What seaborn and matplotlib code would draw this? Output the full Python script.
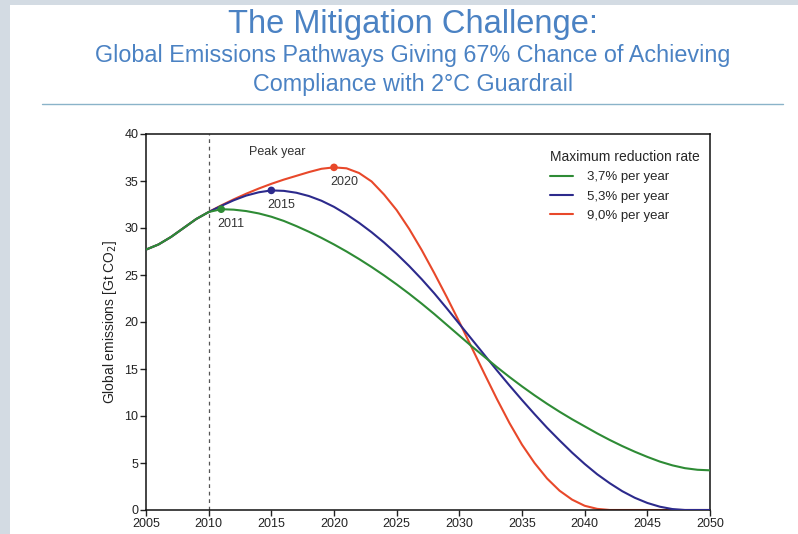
import numpy as np
import pandas as pd
import matplotlib
matplotlib.use("Agg")
import matplotlib.pyplot as plt
from matplotlib.patches import Rectangle
from matplotlib.lines import Line2D
import seaborn as sns

# Data (Gt CO2 per year)
years = list(range(2005, 2051))

green_37 = [27.7, 28.25, 29.05, 30.0, 30.95, 31.7, 32.0, 31.95, 31.8, 31.55,
            31.2, 30.75, 30.2, 29.6, 28.95, 28.25, 27.5, 26.7, 25.85, 24.95,
            24.0, 23.0, 21.95, 20.85, 19.7, 18.55, 17.4, 16.3, 15.2, 14.15,
            13.15, 12.2, 11.3, 10.45, 9.65, 8.9, 8.15, 7.45, 6.8, 6.2,
            5.65, 5.15, 4.75, 4.45, 4.28, 4.22]

blue_53 = [27.7, 28.25, 29.05, 30.0, 30.95, 31.7, 32.35, 32.95, 33.45, 33.8,
           34.0, 33.95, 33.75, 33.4, 32.9, 32.25, 31.45, 30.55, 29.55, 28.45,
           27.25, 25.95, 24.55, 23.05, 21.45, 19.8, 18.15, 16.5, 14.85, 13.25,
           11.7, 10.2, 8.75, 7.4, 6.1, 4.9, 3.8, 2.85, 2.0, 1.3,
           0.75, 0.35, 0.1, 0.0, 0.0, 0.0]

red_90 = [27.7, 28.25, 29.05, 30.0, 30.95, 31.7, 32.4, 33.05, 33.65, 34.2,
          34.7, 35.15, 35.55, 35.95, 36.3, 36.45, 36.35, 35.85, 34.95, 33.55,
          31.9, 29.9, 27.65, 25.2, 22.65, 20.0, 17.25, 14.5, 11.8, 9.25,
          6.95, 5.0, 3.35, 2.05, 1.1, 0.45, 0.12, 0.0, 0.0, 0.0,
          0.0, 0.0, 0.0, 0.0, 0.0, 0.0]

rates = ["3,7% per year", "5,3% per year", "9,0% per year"]
colors = ["#2e8b35", "#2c2a8c", "#e8482a"]
peak_years = [2011, 2015, 2020]
peak_values = [32.0, 34.0, 36.45]

df = pd.DataFrame({
    "year": years * 3,
    "emissions": green_37 + blue_53 + red_90,
    "rate": [rates[0]] * len(years) + [rates[1]] * len(years) + [rates[2]] * len(years),
})

sns.set_style("white")
plt.rcParams["font.family"] = ["Liberation Sans", "DejaVu Sans"]

fig = plt.figure(figsize=(7.98, 5.34), dpi=100)
fig.patch.set_facecolor("#d3dbe3")
fig.add_artist(Rectangle((10 / 798, 0), 1, 1 - 5 / 534, transform=fig.transFigure,
                         facecolor="white", edgecolor="none", zorder=0))

# Slide title
title_color = "#4b82c3"
fig.text(0.517, 0.954, "The Mitigation Challenge:", ha="center", va="center",
         fontsize=23.5, color=title_color)
fig.text(0.517, 0.896, "Global Emissions Pathways Giving 67% Chance of Achieving",
         ha="center", va="center", fontsize=16.8, color=title_color)
fig.text(0.517, 0.842, "Compliance with 2\u00b0C Guardrail", ha="center", va="center",
         fontsize=16.8, color=title_color)
fig.add_artist(Line2D([42 / 798, 783 / 798], [1 - 104 / 534, 1 - 104 / 534],
                      transform=fig.transFigure, color="#8ab3c9", lw=1.0))

ax = fig.add_axes([146 / 798, 1 - 510 / 534, 564 / 798, 376 / 534])
ax.set_facecolor("white")

sns.lineplot(data=df, x="year", y="emissions", hue="rate", hue_order=rates,
             palette=colors, linewidth=1.5, legend=False, ax=ax)
for line, z in zip(ax.get_lines(), [4, 3, 2]):
    line.set_zorder(z)

for px, py, c in zip(peak_years, peak_values, colors):
    ax.scatter(px, py, s=30, color=c, zorder=5, edgecolor="none")
    ax.text(px + 0.8, py - 1.6, str(px), ha="center", va="center", fontsize=9, color="#333333")

ax.text(2015.5, 38.05, "Peak year", ha="center", va="center", fontsize=9, color="#333333")
ax.axvline(2010, color="#555555", lw=0.9, ls=(0, (3, 3)), zorder=1)

ax.set_xlim(2005, 2050)
ax.set_ylim(0, 40)
ax.set_xticks(range(2005, 2051, 5))
ax.set_yticks(range(0, 41, 5))
ax.tick_params(axis="both", direction="out", length=4, width=1, labelsize=9,
               colors="#222222", pad=1.5, bottom=True, left=True)
for s in ax.spines.values():
    s.set_visible(True)
    s.set_color("#111111")
    s.set_linewidth(1.1)
ax.set_xlabel("")
ax.set_ylabel("Global emissions [Gt CO$_2$]", fontsize=10, color="#222222", labelpad=4)

handles = [Line2D([0], [0], color=c, lw=1.5) for c in colors]
leg = ax.legend(handles, rates, title="Maximum reduction rate", loc="upper left",
                bbox_to_anchor=(0.695, 0.99), frameon=False, fontsize=9.5,
                title_fontsize=10, handlelength=1.75, handletextpad=1.1,
                labelspacing=0.55, alignment="left")

fig.savefig("out.png", dpi=100, facecolor=fig.get_facecolor())
